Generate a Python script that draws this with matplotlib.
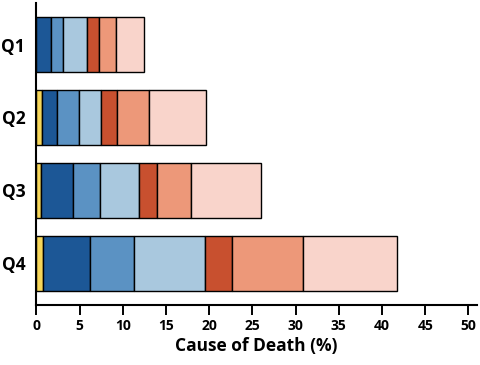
import matplotlib
matplotlib.use("Agg")
import matplotlib.pyplot as plt
import numpy as np

categories = ["Q1", "Q2", "Q3", "Q4"]
yellow     = [0.0, 0.62, 0.50, 0.81]
dark_blue  = [1.66, 1.77, 3.78, 5.40]
mid_blue   = [1.46, 2.55, 3.12, 5.09]
light_blue = [2.71, 2.57, 4.44, 8.20]
dark_red   = [1.45, 1.82, 2.11, 3.16]
mid_red    = [1.93, 3.70, 3.97, 8.21]
light_red  = [3.28, 6.59, 8.09, 10.83]

series = [yellow, dark_blue, mid_blue, light_blue, dark_red, mid_red, light_red]
colors = ["#f6d65a", "#1c5796", "#5b92c3", "#a9c8de", "#c8502f", "#ed9879", "#f9d4cb"]

plt.rcParams['font.family'] = ['Open Sans', 'DejaVu Sans']
fig = plt.figure(figsize=(4.8, 3.65), dpi=100)
ax = fig.add_axes([0.0756, 0.1644, 0.9184, 0.8276])

y = np.arange(len(categories))
left = np.zeros(len(categories))
for vals, c in zip(series, colors):
    vals = np.array(vals)
    ax.barh(y, vals, left=left, height=0.75, color=c, edgecolor="black", linewidth=1.0)
    left += vals

ax.set_ylim(3.57, -0.57)
ax.set_xlim(0, 51)
ax.set_xticks(np.arange(0, 51, 5))
ax.set_yticks(y)
ax.set_yticklabels(categories, fontsize=12.5, fontweight="bold")
ax.tick_params(axis="y", length=0, pad=8)
ax.tick_params(axis="x", length=7, width=1.4, labelsize=10, pad=3)
for lab in ax.get_xticklabels():
    lab.set_fontweight("bold")
ax.set_xlabel("Cause of Death (%)", fontsize=12.5, fontweight="bold", labelpad=3)
for s in ["top", "right"]:
    ax.spines[s].set_visible(False)
for s in ["left", "bottom"]:
    ax.spines[s].set_linewidth(1.5)

fig.savefig("out.png", dpi=100)
